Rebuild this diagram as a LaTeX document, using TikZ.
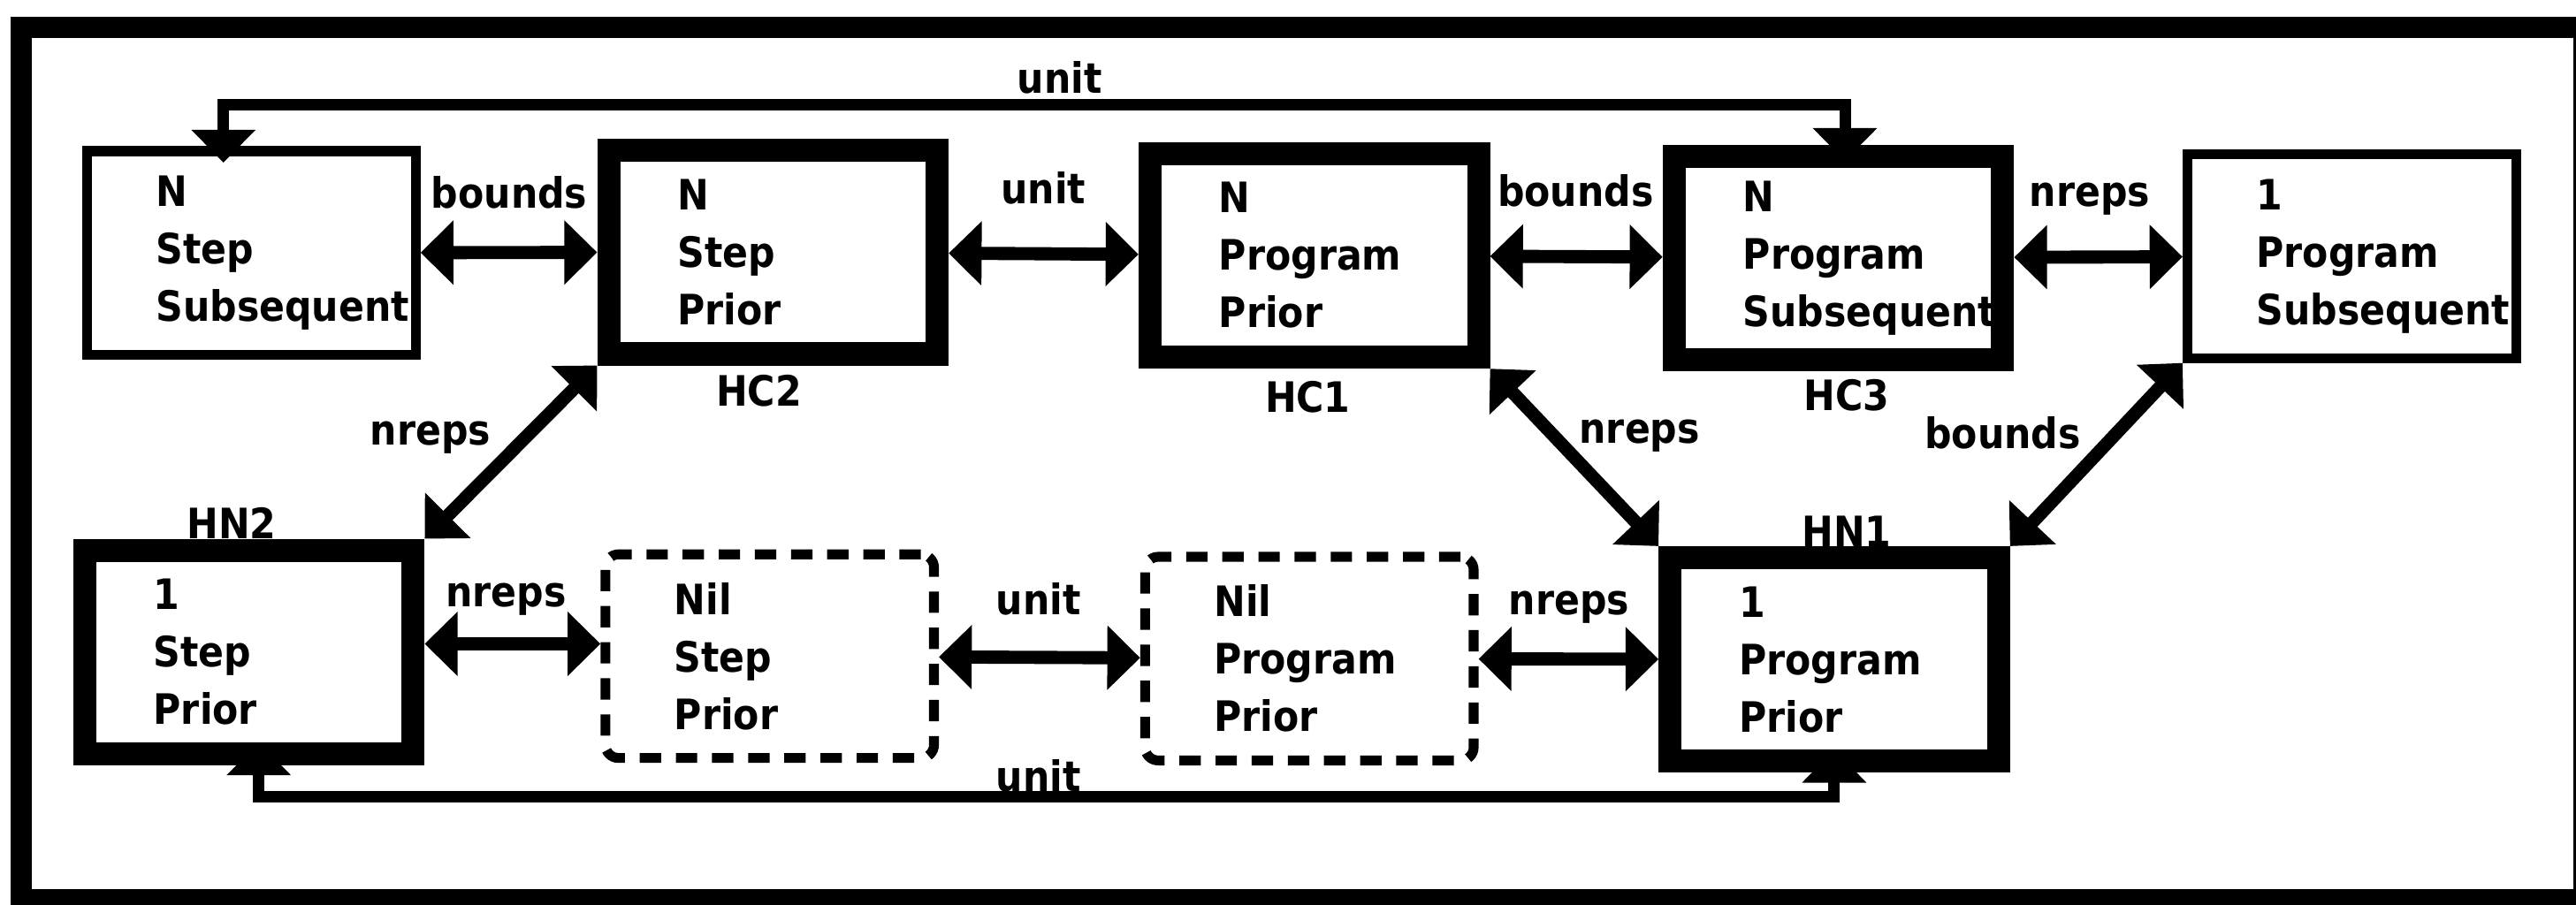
\documentclass[tikz,border=0pt]{standalone}
\usepackage{fontspec}
\usetikzlibrary{arrows.meta}
\newfontfamily\boxface{DejaVu Sans Condensed Bold}
\newcommand{\boxfont}{\boxface\fontsize{25.5}{35}\selectfont}
\hyphenpenalty=10000
\hfuzz=200pt

\tikzset{
  thinbox/.style={draw, line width=6pt, minimum width=200pt, minimum height=124pt,
    text width=116pt, align=left, font=\boxfont},
  heavybox/.style={thinbox, line width=14pt},
  nilbox/.style={thinbox, dash pattern=on 13pt off 9pt, rounded corners=8pt},
  tag/.style={font=\boxfont, inner sep=0pt, anchor=base},
  link/.style={{Triangle[length=20pt,width=38pt]}-{Triangle[length=20pt,width=38pt]}, line width=8pt},
  rail/.style={link, line width=7pt},
}

\begin{document}
\begin{tikzpicture}[x=1pt,y=-1pt]

\useasboundingbox (0,0) rectangle (1568,551);
\draw[line width=13pt] (13,16.5) rectangle (1573,548);

\node[thinbox] (nss) at (153,154) {N\\Step\\Subsequent};
\node[heavybox] (hc2) at (470.5,153.5) {N\\Step\\Prior};
\node[heavybox] (hc1) at (800,155.5) {N\\Program\\Prior};
\node[heavybox] (hc3) at (1119,157) {N\\Program\\Subsequent};
\node[thinbox] (ops) at (1431.5,156) {1\\Program\\Subsequent};
\node[heavybox] (hn2) at (151.5,397) {1\\Step\\Prior};
\node[nilbox] (nilstep) at (468.5,399.5) {Nil\\Step\\Prior};
\node[nilbox] (nilprog) at (797,401) {Nil\\Program\\Prior};
\node[heavybox] (hn1) at (1116.5,401.5) {1\\Program\\Prior};

\node[tag] (hc2lab) at (462,247.5) {HC2};
\node[tag] (hc1lab) at (796,251) {HC1};
\node[tag] (hc3lab) at (1124,250) {HC3};
\node[tag] (hn2lab) at (141,328) {HN2};
\node[tag] (hn1lab) at (1124,333) {HN1};

\node[tag] (unittop) at (645,56.5) {unit};
\node[tag] (bnd1) at (310,126.5) {bounds};
\node[tag] (unit1) at (635,124) {unit};
\node[tag] (bnd2) at (959,125.5) {bounds};
\node[tag] (nrep1) at (1272,125.5) {nreps};
\node[tag] (nrep2) at (262,271) {nreps};
\node[tag] (nrep3) at (998,270) {nreps};
\node[tag] (bnd3) at (1219,273) {bounds};
\node[tag] (nrep4) at (308,369.5) {nreps};
\node[tag] (unit2) at (632,374) {unit};
\node[tag] (nrep5) at (955,374) {nreps};
\node[tag] (unitbot) at (632,482) {unit};

\draw[link] (nss) -- (hc2);
\draw[link] (hc2) -- (hc1);
\draw[link] (hc1) -- (hc3);
\draw[link] (hc3) -- (ops);
\draw[link] (hn2.north east) -- (hc2.south west);
\draw[link] (hc1.south east) -- (hn1.north west);
\draw[link] (ops.south west) -- (hn1.north east);
\draw[link] ([yshift=5pt]hn2.east) -- ([yshift=5pt]hn2.east -| nilstep.west);
\draw[link] (nilstep) -- (nilprog);
\draw[link] (nilprog) -- (hn1);
\draw[rail, shorten <=-10pt, shorten >=-10pt] ([xshift=-17pt]nss.north) -- ++(0,-25.5) -| ([xshift=4pt]hc3.north);
\draw[rail, shorten <=-14pt, shorten >=-14pt] ([xshift=6pt]hn2.south) -- ++(0,19) -| (hn1.south);

\end{tikzpicture}
\end{document}
